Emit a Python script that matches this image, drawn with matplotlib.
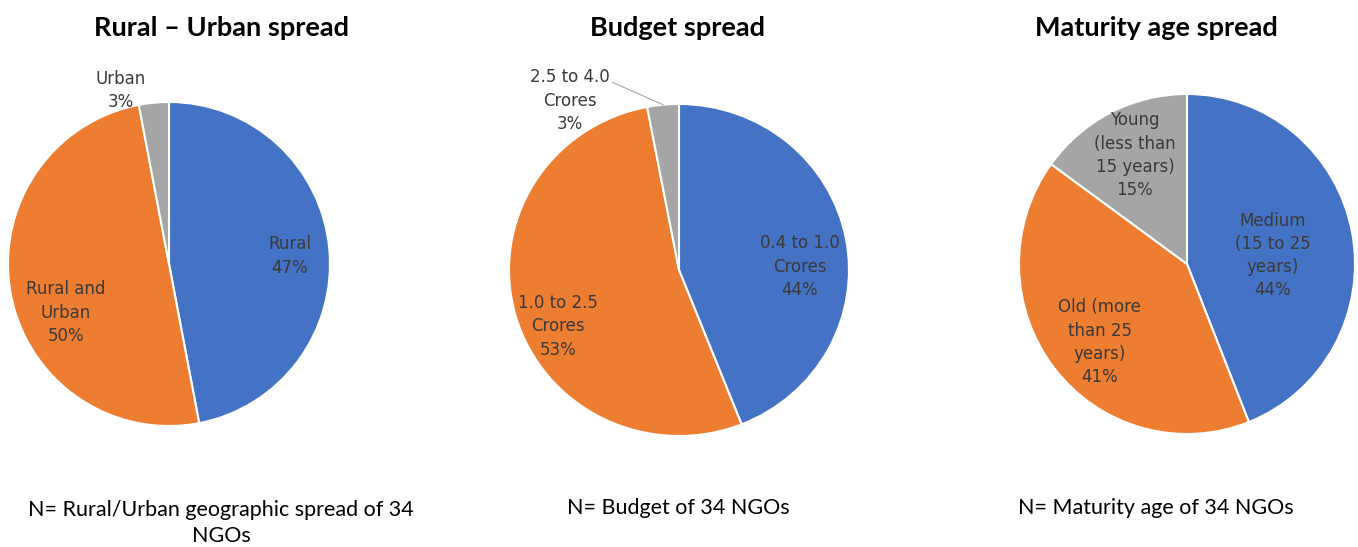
import matplotlib
matplotlib.use("Agg")
import matplotlib.pyplot as plt
import numpy as np

W, H = 1358, 547
DPI = 100

# ---------------- data ----------------
titles = ["Rural \u2013 Urban spread", "Budget spread", "Maturity age spread"]
footers = ["N= Rural/Urban geographic spread of 34\nNGOs",
           "N= Budget of 34 NGOs",
           "N= Maturity age of 34 NGOs"]

rural_labels = ["Rural", "Rural and\nUrban", "Urban"]
rural_values = [47, 50, 3]

budget_labels = ["0.4 to 1.0\nCrores", "1.0 to 2.5\nCrores", "2.5 to 4.0\nCrores"]
budget_values = [44, 53, 3]

age_labels = ["Medium\n(15 to 25\nyears)", "Old (more\nthan 25\nyears)", "Young\n(less than\n15 years)"]
age_values = [44, 41, 15]

colors = ["#4472C4", "#ED7D31", "#A5A5A5"]

# ---------------- layout ----------------
centers = [(169, 264), (679, 270), (1187, 264)]
radii = [(161, 162), (170, 166), (168, 170)]
title_pos = [(221, 28), (678, 28), (1156, 28)]
footer_pos = [(221, 523), (678, 508), (1156, 508)]
label_pos = [
    [(0.75, 0.05), (-0.64, -0.30), (-0.30, 1.07)],
    [(0.71, 0.02), (-0.71, -0.34), (-0.64, 1.02)],
    [(0.51, 0.05), (-0.52, -0.46), (-0.31, 0.64)],
]
leader = [None, (2, (-0.39, 1.13)), None]

fig = plt.figure(figsize=(W / DPI, H / DPI), dpi=DPI)
fig.patch.set_facecolor("white")


def fx(x):
    return x / W


def fy(y):
    return 1 - y / H


datasets = [(rural_labels, rural_values), (budget_labels, budget_values), (age_labels, age_values)]
label_font = "DejaVu Sans"
text_font = "Lato"

for i, (labels, values) in enumerate(datasets):
    cx, cy = centers[i]
    rx, ry = radii[i]
    ax = fig.add_axes([fx(cx - rx), fy(cy + ry), 2 * rx / W, 2 * ry / H])
    wedges, _ = ax.pie(values, colors=colors, startangle=90, counterclock=False,
                       radius=1, center=(0, 0), normalize=True,
                       wedgeprops=dict(edgecolor="white", linewidth=1.5))
    ax.set_xlim(-1, 1)
    ax.set_ylim(-1, 1)
    ax.set_aspect("auto")
    ax.axis("off")
    for j, (lab, val) in enumerate(zip(labels, values)):
        lx, ly = label_pos[i][j]
        ax.text(lx, ly, f"{lab}\n{val}%", ha="center", va="center",
                fontsize=12, color="#3A3A3A", family=label_font,
                linespacing=1.38, clip_on=False)
    if leader[i] is not None:
        j, (sx, sy) = leader[i]
        w = wedges[j]
        mid = np.deg2rad((w.theta1 + w.theta2) / 2)
        ax.plot([sx, np.cos(mid)], [sy, np.sin(mid)], color="#A6A6A6",
                lw=0.8, clip_on=False)

    tx, ty = title_pos[i]
    fig.text(fx(tx), fy(ty), titles[i], ha="center", va="center",
             fontsize=19.5, fontweight="bold", family=text_font, color="black")
    nx, ny = footer_pos[i]
    fig.text(fx(nx), fy(ny), footers[i], ha="center", va="center",
             fontsize=15.5, family=text_font, color="black", linespacing=1.4)

fig.savefig("out.png", dpi=DPI, facecolor="white")
